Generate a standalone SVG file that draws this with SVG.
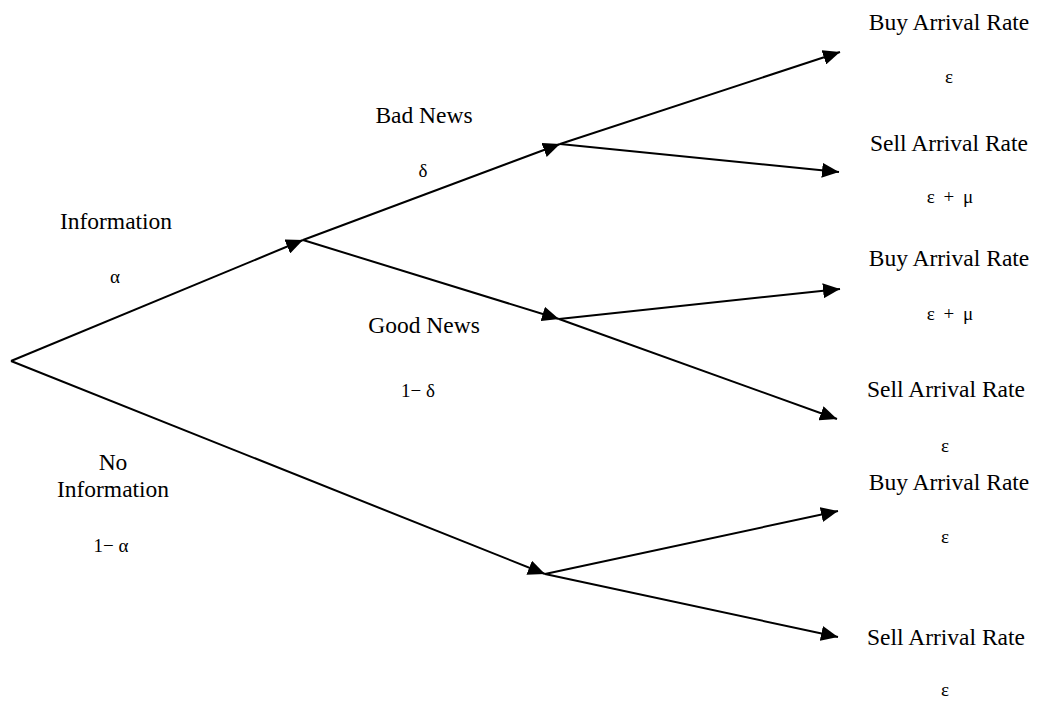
<svg xmlns="http://www.w3.org/2000/svg" width="1040" height="702" viewBox="0 0 1040 702">
<defs>
<style>
.lbl{font-family:"Liberation Serif","Times New Roman",serif;font-size:23.5px;fill:#000;text-anchor:middle}
.sym{font-family:"Liberation Serif","Times New Roman",serif;font-size:19px;fill:#000;text-anchor:middle}
.wide{word-spacing:4px}
.edge{stroke:#000;stroke-width:2;fill:none;marker-end:url(#arr)}
</style>
<marker id="arr" markerUnits="userSpaceOnUse" markerWidth="18" markerHeight="15" refX="17" refY="7.5" orient="auto">
<path d="M0,0 L17,7.5 L0,15 Z" fill="#000"/>
</marker>
</defs>
<rect width="1040" height="702" fill="#fff"/>
<g id="connectors">
<line class="edge" x1="11" y1="361" x2="303" y2="240"/>
<line class="edge" x1="11" y1="361" x2="545" y2="574"/>
<line class="edge" x1="303" y1="240" x2="560" y2="144"/>
<line class="edge" x1="303" y1="240" x2="559" y2="319"/>
<line class="edge" x1="560" y1="144" x2="840" y2="52"/>
<line class="edge" x1="560" y1="144" x2="839" y2="172"/>
<line class="edge" x1="559" y1="319" x2="840" y2="289"/>
<line class="edge" x1="559" y1="319" x2="837" y2="419"/>
<line class="edge" x1="545" y1="574" x2="838" y2="511"/>
<line class="edge" x1="545" y1="574" x2="838" y2="637"/>
</g>
<g id="information">
<text class="lbl" x="116" y="229">Information</text>
<text class="sym" x="115" y="283">α</text>
</g>
<g id="no-information">
<text class="lbl" x="113" y="470">No</text>
<text class="lbl" x="113" y="497">Information</text>
<text class="sym" x="111" y="552">1− α</text>
</g>
<g id="bad-news">
<text class="lbl" x="424" y="123">Bad News</text>
<text class="sym" x="423" y="177">δ</text>
</g>
<g id="good-news">
<text class="lbl" x="424" y="333">Good News</text>
<text class="sym" x="418" y="397">1− δ</text>
</g>
<g id="bad-buy">
<text class="lbl" x="949" y="30">Buy Arrival Rate</text>
<text class="sym" x="949" y="83">ε</text>
</g>
<g id="bad-sell">
<text class="lbl" x="949" y="151">Sell Arrival Rate</text>
<text class="sym wide" x="950" y="203">ε + μ</text>
</g>
<g id="good-buy">
<text class="lbl" x="949" y="266">Buy Arrival Rate</text>
<text class="sym wide" x="950" y="320">ε + μ</text>
</g>
<g id="good-sell">
<text class="lbl" x="946" y="397">Sell Arrival Rate</text>
<text class="sym" x="945" y="452">ε</text>
</g>
<g id="noinfo-buy">
<text class="lbl" x="949" y="490">Buy Arrival Rate</text>
<text class="sym" x="945" y="543">ε</text>
</g>
<g id="noinfo-sell">
<text class="lbl" x="946" y="645">Sell Arrival Rate</text>
<text class="sym" x="945" y="696">ε</text>
</g>
</svg>
